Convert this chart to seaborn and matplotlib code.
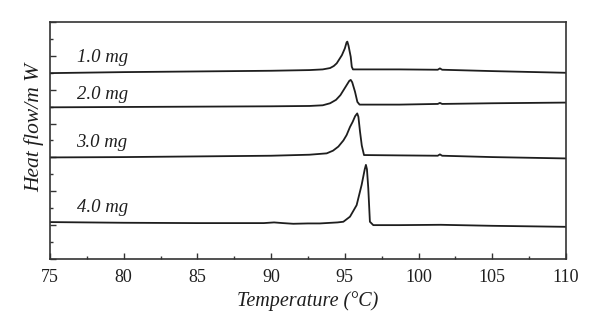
import matplotlib
matplotlib.use("Agg")
import matplotlib.pyplot as plt
import pandas as pd
import seaborn as sns
from matplotlib.ticker import MultipleLocator

# DSC traces for four sample masses (temperature in °C, heat flow in mW, offset per trace)
samples = ["1.0 mg", "2.0 mg", "3.0 mg", "4.0 mg"]

temp_1mg = [75.0, 80.0, 85.0, 90.0, 92.6, 93.5, 94.0, 94.25, 94.45, 94.8, 95.0, 95.12,
            95.17, 95.25, 95.4, 95.47, 95.55, 98.7, 101.3, 101.45, 101.6, 105.0, 110.0]
flow_1mg = [5.49, 5.52, 5.54, 5.56, 5.58, 5.60, 5.64, 5.70, 5.78, 6.02, 6.22, 6.40,
            6.42, 6.30, 5.97, 5.68, 5.60, 5.60, 5.59, 5.63, 5.59, 5.55, 5.50]

temp_2mg = [75.0, 80.0, 85.0, 90.0, 92.6, 93.5, 94.0, 94.4, 94.7, 95.1, 95.3, 95.4,
            95.5, 95.69, 95.85, 96.0, 98.7, 101.3, 101.45, 101.6, 105.0, 110.0]
flow_2mg = [4.48, 4.49, 4.50, 4.51, 4.52, 4.54, 4.60, 4.70, 4.84, 5.12, 5.26, 5.29,
            5.22, 4.94, 4.64, 4.56, 4.56, 4.58, 4.61, 4.58, 4.60, 4.62]

temp_3mg = [75.0, 80.0, 85.0, 90.0, 92.6, 93.77, 94.2, 94.56, 94.9, 95.12, 95.35, 95.53,
            95.7, 95.84, 95.92, 96.03, 96.15, 96.3, 98.7, 101.3, 101.45, 101.6, 105.0, 110.0]
flow_3mg = [3.00, 3.01, 3.03, 3.05, 3.08, 3.12, 3.20, 3.32, 3.50, 3.66, 3.90, 4.05,
            4.22, 4.30, 4.20, 3.76, 3.35, 3.07, 3.06, 3.05, 3.09, 3.05, 3.01, 2.97]

temp_4mg = [75.0, 80.0, 85.0, 89.5, 90.2, 90.8, 91.5, 92.5, 93.3, 94.5, 94.9, 95.35,
            95.8, 96.14, 96.35, 96.43, 96.5, 96.59, 96.7, 96.93, 98.7, 101.5, 105.0, 110.0]
flow_4mg = [1.09, 1.07, 1.06, 1.06, 1.08, 1.06, 1.04, 1.05, 1.05, 1.08, 1.10, 1.25,
            1.59, 2.19, 2.65, 2.78, 2.65, 2.09, 1.10, 1.00, 1.00, 1.01, 0.98, 0.95]

label_temp = 76.8
label_flow = [5.81, 4.72, 3.32, 1.40]

temps = [temp_1mg, temp_2mg, temp_3mg, temp_4mg]
flows = [flow_1mg, flow_2mg, flow_3mg, flow_4mg]
df = pd.concat(
    [pd.DataFrame({"temp": t, "flow": f, "sample": s}) for s, t, f in zip(samples, temps, flows)],
    ignore_index=True,
)

sns.set_theme(style="ticks")
plt.rcParams["font.family"] = ["Liberation Serif", "DejaVu Serif"]

ink = "#1e1e1e"
fig = plt.figure(figsize=(6, 3.34), dpi=100)
ax = fig.add_axes([0.0833, 0.2246, 0.86, 0.7095])

sns.lineplot(data=df, x="temp", y="flow", hue="sample", palette=[ink] * 4,
             estimator=None, sort=False, linewidth=1.3, legend=False, ax=ax)

for s, yv in zip(samples, label_flow):
    ax.text(label_temp, yv, s, fontsize=13.5, style="italic", color=ink,
            ha="left", va="baseline")

ax.set_xlim(75, 110)
ax.set_ylim(0, 7)
ax.xaxis.set_major_locator(MultipleLocator(5))
ax.xaxis.set_minor_locator(MultipleLocator(2.5))
ax.yaxis.set_major_locator(MultipleLocator(1))
ax.yaxis.set_minor_locator(MultipleLocator(0.5))
ax.set_yticklabels([])
ax.tick_params(which="both", direction="in", color="#333333", top=False, right=False)
ax.tick_params(which="major", length=4, width=1.0)
ax.tick_params(which="minor", length=2.2, width=1.0)
ax.tick_params(axis="x", labelsize=13, labelcolor=ink, pad=7)
for sp in ax.spines.values():
    sp.set_color("#333333")
    sp.set_linewidth(1.2)

ax.set_xlabel("Temperature (°C)", fontsize=14.5, style="italic", color=ink)
ax.set_ylabel("Heat flow/m W", fontsize=15.5, style="italic", color=ink)
ax.xaxis.set_label_coords(0.5, -0.135)
ax.yaxis.set_label_coords(-0.012, 0.553)

fig.savefig("out.png", dpi=100, facecolor="white")
